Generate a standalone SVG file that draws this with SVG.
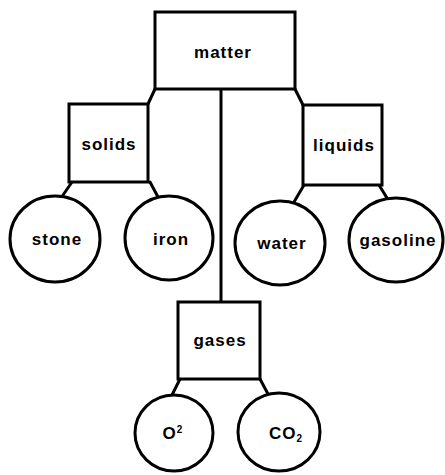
<svg xmlns="http://www.w3.org/2000/svg" width="445" height="475" viewBox="0 0 445 475">
<style>
.box{fill:#fff;stroke:#000;stroke-width:3}
.circ{fill:#fff;stroke:#000;stroke-width:3}
.ln{fill:none;stroke:#000;stroke-width:3;stroke-linecap:round}
text{font-family:"Liberation Sans",Arial,sans-serif;font-weight:bold;font-size:17px;letter-spacing:1px;text-anchor:middle;fill:#000}
</style>
<rect width="445" height="475" fill="#fff"/>
<g id="connectors">
<line class="ln" x1="155" y1="89" x2="148" y2="104"/>
<line class="ln" x1="295" y1="89" x2="303" y2="105"/>
<line class="ln" x1="221" y1="89" x2="221" y2="302"/>
<line class="ln" x1="72" y1="182" x2="61" y2="198"/>
<line class="ln" x1="150" y1="182" x2="158" y2="197"/>
<line class="ln" x1="304" y1="185" x2="294" y2="202"/>
<line class="ln" x1="379" y1="185" x2="387" y2="198"/>
<line class="ln" x1="180" y1="379" x2="172" y2="395"/>
<line class="ln" x1="260" y1="379" x2="268" y2="394"/>
</g>
<g id="matter"><rect class="box" x="155" y="12" width="140" height="77"/><text x="223" y="58">matter</text></g>
<g id="solids"><rect class="box" x="69" y="104" width="79" height="78"/><text x="109" y="150">solids</text></g>
<g id="liquids"><rect class="box" x="303" y="105" width="79" height="80"/><text x="344" y="151">liquids</text></g>
<g id="gases"><rect class="box" x="178" y="302" width="82" height="77"/><text x="220" y="346">gases</text></g>
<g id="stone"><ellipse class="circ" cx="55" cy="239" rx="45" ry="43"/><text x="57" y="245">stone</text></g>
<g id="iron"><ellipse class="circ" cx="169" cy="238" rx="44" ry="42"/><text x="171" y="245">iron</text></g>
<g id="water"><ellipse class="circ" cx="280" cy="243" rx="45" ry="42"/><text x="282" y="249">water</text></g>
<g id="gasoline"><ellipse class="circ" cx="396" cy="240" rx="47" ry="42"/><text x="398" y="246">gasoline</text></g>
<g id="o2"><ellipse class="circ" cx="174" cy="433" rx="39" ry="38"/><text x="173" y="439">O<tspan font-size="10" dy="-6">2</tspan></text></g>
<g id="co2"><ellipse class="circ" cx="279" cy="432" rx="41" ry="39"/><text x="286" y="439">CO<tspan font-size="10" dy="3">2</tspan></text></g>
</svg>
